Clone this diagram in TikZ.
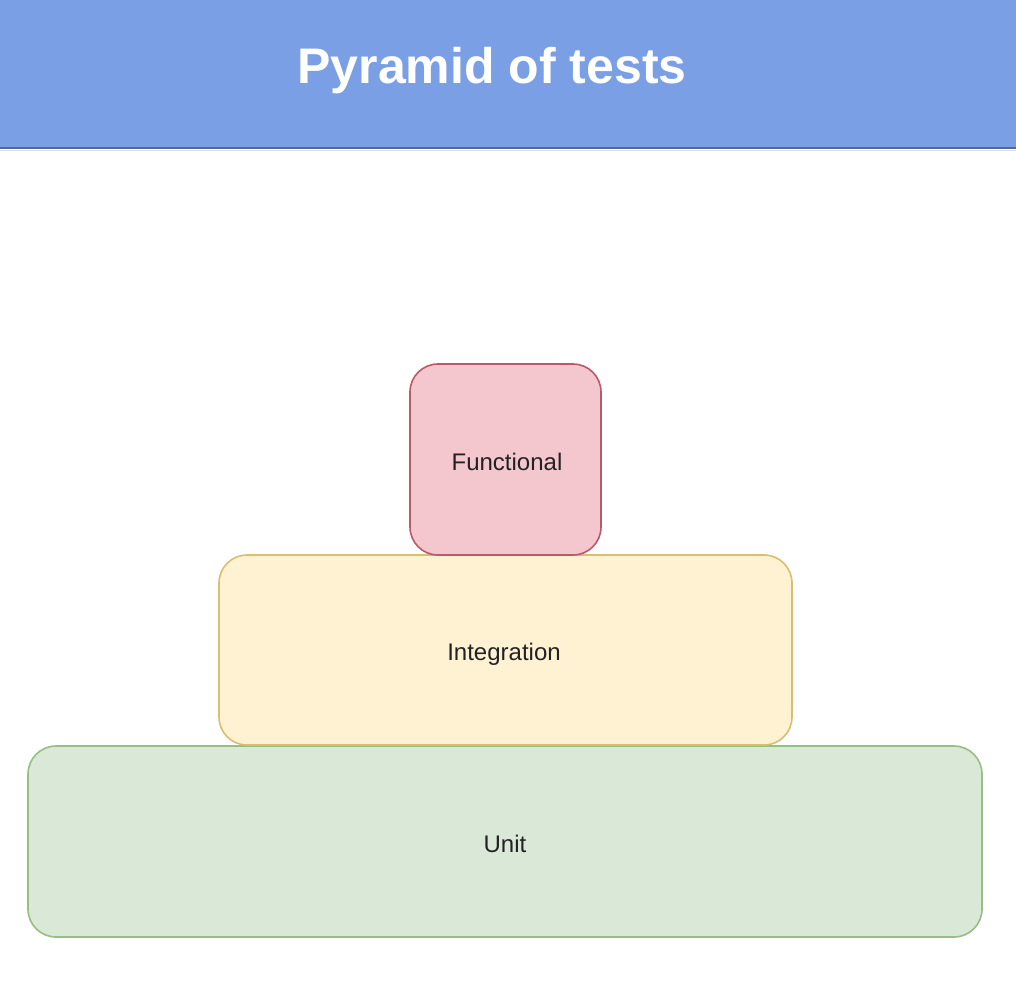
\documentclass[tikz,border=0pt]{standalone}
\usepackage{fontspec}
\setmainfont{Liberation Sans}
\definecolor{hdr}{HTML}{7A9FE5}
\definecolor{hdrline}{HTML}{56688F}
\definecolor{redfill}{HTML}{F4C7CF}
\definecolor{redline}{HTML}{B85A6A}
\definecolor{yelfill}{HTML}{FFF2D3}
\definecolor{yelline}{HTML}{D9BE72}
\definecolor{grnfill}{HTML}{DAE8D8}
\definecolor{grnline}{HTML}{97BF83}
\definecolor{txt}{HTML}{222222}
\begin{document}
\begin{tikzpicture}[x=1pt,y=-1pt,
  tier/.style={draw, line width=1.6pt, rounded corners=28pt},
  lbl/.style={text=txt, font=\fontsize{24}{29}\selectfont}]
\useasboundingbox (0,0) rectangle (1016,980);
\fill[white] (0,0) rectangle (1016,980);
\fill[hdr] (0,0) rectangle (1016,148);
\draw[hdrline, line width=2.5pt] (0,148) -- (1016,148);
\fill[gray!25] (0,149.5) rectangle (1016,151);
\node[text=white, font=\bfseries\fontsize{50}{60}\selectfont] (title) at (492,71) {Pyramid of tests};
\draw[tier, fill=grnfill, draw=grnline] (28,746) rectangle (982,937);
\draw[tier, fill=yelfill, draw=yelline] (219,555) rectangle (792,745);
\draw[tier, fill=redfill, draw=redline] (410,364) rectangle (601,555);
\node[lbl] (functional) at (507,462) {Functional};
\node[lbl] (integration) at (504,654) {Integration};
\node[lbl] (unit) at (505,844) {Unit};
\end{tikzpicture}
\end{document}
